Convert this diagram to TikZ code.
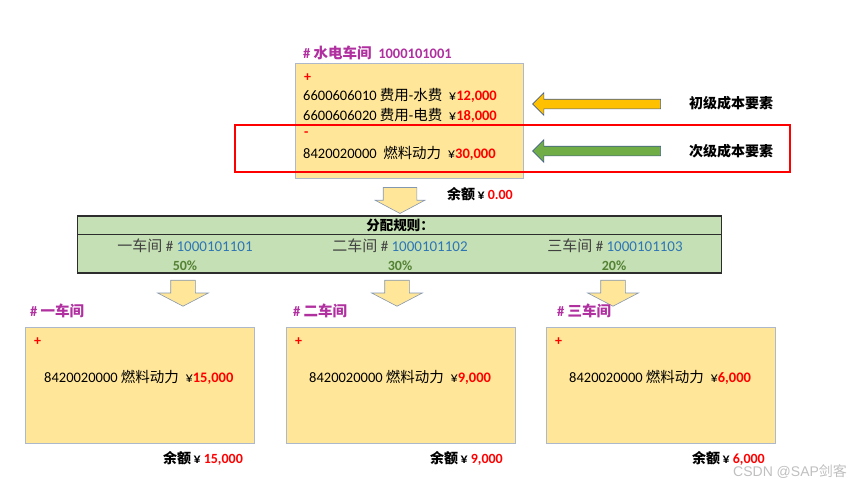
\documentclass[tikz,border=0pt]{standalone}
\usepackage{fontspec}
\setmainfont{Carlito}
\newfontfamily\cjk{Noto Sans CJK SC}
\newfontfamily\marksans{Liberation Sans}
\usetikzlibrary{shapes.arrows, positioning}

\definecolor{boxyellow}{RGB}{255,230,153}
\definecolor{boxline}{RGB}{173,185,202}
\definecolor{titlepurple}{RGB}{176,48,160}
\definecolor{rulegreen}{RGB}{197,224,180}
\definecolor{ruleline}{RGB}{45,45,45}
\definecolor{codeblue}{RGB}{46,117,182}
\definecolor{pctgreen}{RGB}{84,130,53}
\definecolor{primyellow}{RGB}{255,192,0}
\definecolor{secgreen}{RGB}{112,173,71}
\definecolor{arrowline}{RGB}{65,95,140}
\definecolor{flowline}{RGB}{132,151,176}
\definecolor{textgray}{RGB}{64,64,64}

\newcommand{\zh}[1]{{\cjk #1}}
\newcommand{\amt}[1]{\textcolor{red}{\textbf{#1}}}

\begin{document}
\begin{tikzpicture}[
  x=1pt, y=-1pt,
  txt/.style={inner sep=0, anchor=west, font=\fontsize{14.5}{16}\selectfont},
  bold/.style={font=\bfseries\fontsize{14}{16}\selectfont},
  title/.style={inner sep=0, anchor=west, text=titlepurple,
    font=\bfseries\fontsize{14.5}{16}\selectfont},
  sign/.style={inner sep=0, anchor=west, text=red,
    font=\bfseries\fontsize{14}{16}\selectfont},
  srcbox/.style={draw=boxline, fill=boxyellow, line width=0.8pt,
    minimum width=228, minimum height=115, inner sep=0},
  dstbox/.style={draw=boxline, fill=boxyellow, line width=0.8pt,
    minimum width=229, minimum height=116, inner sep=0},
  hilite/.style={draw=red, line width=1.6pt,
    minimum width=555, minimum height=47, inner sep=0},
  rulebox/.style={draw=ruleline, fill=rulegreen, line width=1.2pt,
    minimum width=644, minimum height=57, inner sep=0},
  rowtxt/.style={inner sep=0, font=\fontsize{15}{17}\selectfont},
  pct/.style={inner sep=0, text=pctgreen, font=\bfseries\fontsize{14}{16}\selectfont},
  costarrow/.style={single arrow, draw=arrowline, line width=0.6pt,
    minimum height=128, minimum width=22, inner xsep=0, inner ysep=4.5,
    single arrow head extend=6.5, single arrow tip angle=90,
    shape border rotate=180},
  flowarrow/.style={single arrow, draw=flowline, fill=boxyellow, line width=0.6pt,
    minimum height=26, minimum width=50, inner xsep=12, inner ysep=0,
    single arrow head extend=13, single arrow tip angle=125,
    shape border rotate=270}
]
\useasboundingbox (0,0) rectangle (865,487);

%% Source workshop
\node[title] (srctitle) at (303,53) {\# \zh{水电车间}\ \ 1000101001};
\node[srcbox] (src) at (409,120.5) {};
\node[sign] (srcplus) at (304,78) {+};
\node[txt] (cost1) at (303,95) {6600606010 \zh{费用}-\zh{水费}\ \ ¥\amt{12,000}};
\node[txt] (cost2) at (303,115) {6600606020 \zh{费用}-\zh{电费}\ \ ¥\amt{18,000}};
\node[sign] (srcminus) at (304,134) {-};
\node[txt] (cost3) at (303,153) {8420020000\ \ \zh{燃料动力}\ \ ¥\amt{30,000}};

%% Secondary cost element highlight
\node[hilite] (hl) at (512.5,148.5) {};

%% Cost element arrows
\node[costarrow, fill=primyellow] (primarr) at (599,104) {};
\node[txt, bold] (primlbl) at (689,103) {\zh{初级成本要素}};
\node[costarrow, fill=secgreen] (secarr) at (599,151) {};
\node[txt, bold] (seclbl) at (689,151) {\zh{次级成本要素}};

%% Settlement
\node[flowarrow, minimum width=49, inner xsep=16.5, single arrow head extend=8,
  single arrow tip angle=124] (settle) at (400,196) {};
\node[txt, bold] (srcbal) at (447,194) {\zh{余额}\,¥ \amt{0.00}};

%% Distribution rule
\node[rulebox] (rule) at (399.5,244.5) {};
\draw[ruleline, line width=1pt] ([yshift=-19pt]rule.north west) -- ([yshift=-19pt]rule.north east);
\node[inner sep=0, font=\bfseries\fontsize{13.5}{16}\selectfont] (ruletitle) at (400,225) {\zh{分配规则：}};
\node[rowtxt] (ws1) at (185,246) {\textcolor{textgray}{\zh{一车间} \#} \textcolor{codeblue}{1000101101}};
\node[rowtxt] (ws2) at (400,246) {\textcolor{textgray}{\zh{二车间} \#} \textcolor{codeblue}{1000101102}};
\node[rowtxt] (ws3) at (615,246) {\textcolor{textgray}{\zh{三车间} \#} \textcolor{codeblue}{1000101103}};
\node[pct] (pct1) at (185,266) {50\%};
\node[pct] (pct2) at (400,266) {30\%};
\node[pct] (pct3) at (614,266) {20\%};

%% Allocation arrows
\node[flowarrow] (alloc1) at (183,290) {};
\node[flowarrow] (alloc2) at (397,290) {};
\node[flowarrow] (alloc3) at (613,290) {};

%% Workshop 1
\node[title] (dst1title) at (30,311) {\# \zh{一车间}};
\node[dstbox] (dst1) at (139.5,385) {};
\node[sign] (dst1plus) at (34,342) {+};
\node[txt] (dst1cost) at (44,377) {8420020000 \zh{燃料动力}\ \ ¥\amt{15,000}};
\node[txt, bold] (dst1bal) at (163,458) {\zh{余额}\,¥ \amt{15,000}};

%% Workshop 2
\node[title] (dst2title) at (293,311) {\# \zh{二车间}};
\node[dstbox] (dst2) at (401,385) {};
\node[sign] (dst2plus) at (295,342) {+};
\node[txt] (dst2cost) at (309,377) {8420020000 \zh{燃料动力}\ \ ¥\amt{9,000}};
\node[txt, bold] (dst2bal) at (430,458) {\zh{余额}\,¥ \amt{9,000}};

%% Workshop 3
\node[title] (dst3title) at (557,311) {\# \zh{三车间}};
\node[dstbox] (dst3) at (661,385) {};
\node[sign] (dst3plus) at (555,342) {+};
\node[txt] (dst3cost) at (569,377) {8420020000 \zh{燃料动力}\ \ ¥\amt{6,000}};
\node[txt, bold] (dst3bal) at (692,458) {\zh{余额}\,¥ \amt{6,000}};

%% Watermark
\node[txt, text=black!25, font=\marksans\fontsize{14}{16}\selectfont] (mark) at (733,472) {CSDN @SAP\zh{剑客}};

\end{tikzpicture}
\end{document}
